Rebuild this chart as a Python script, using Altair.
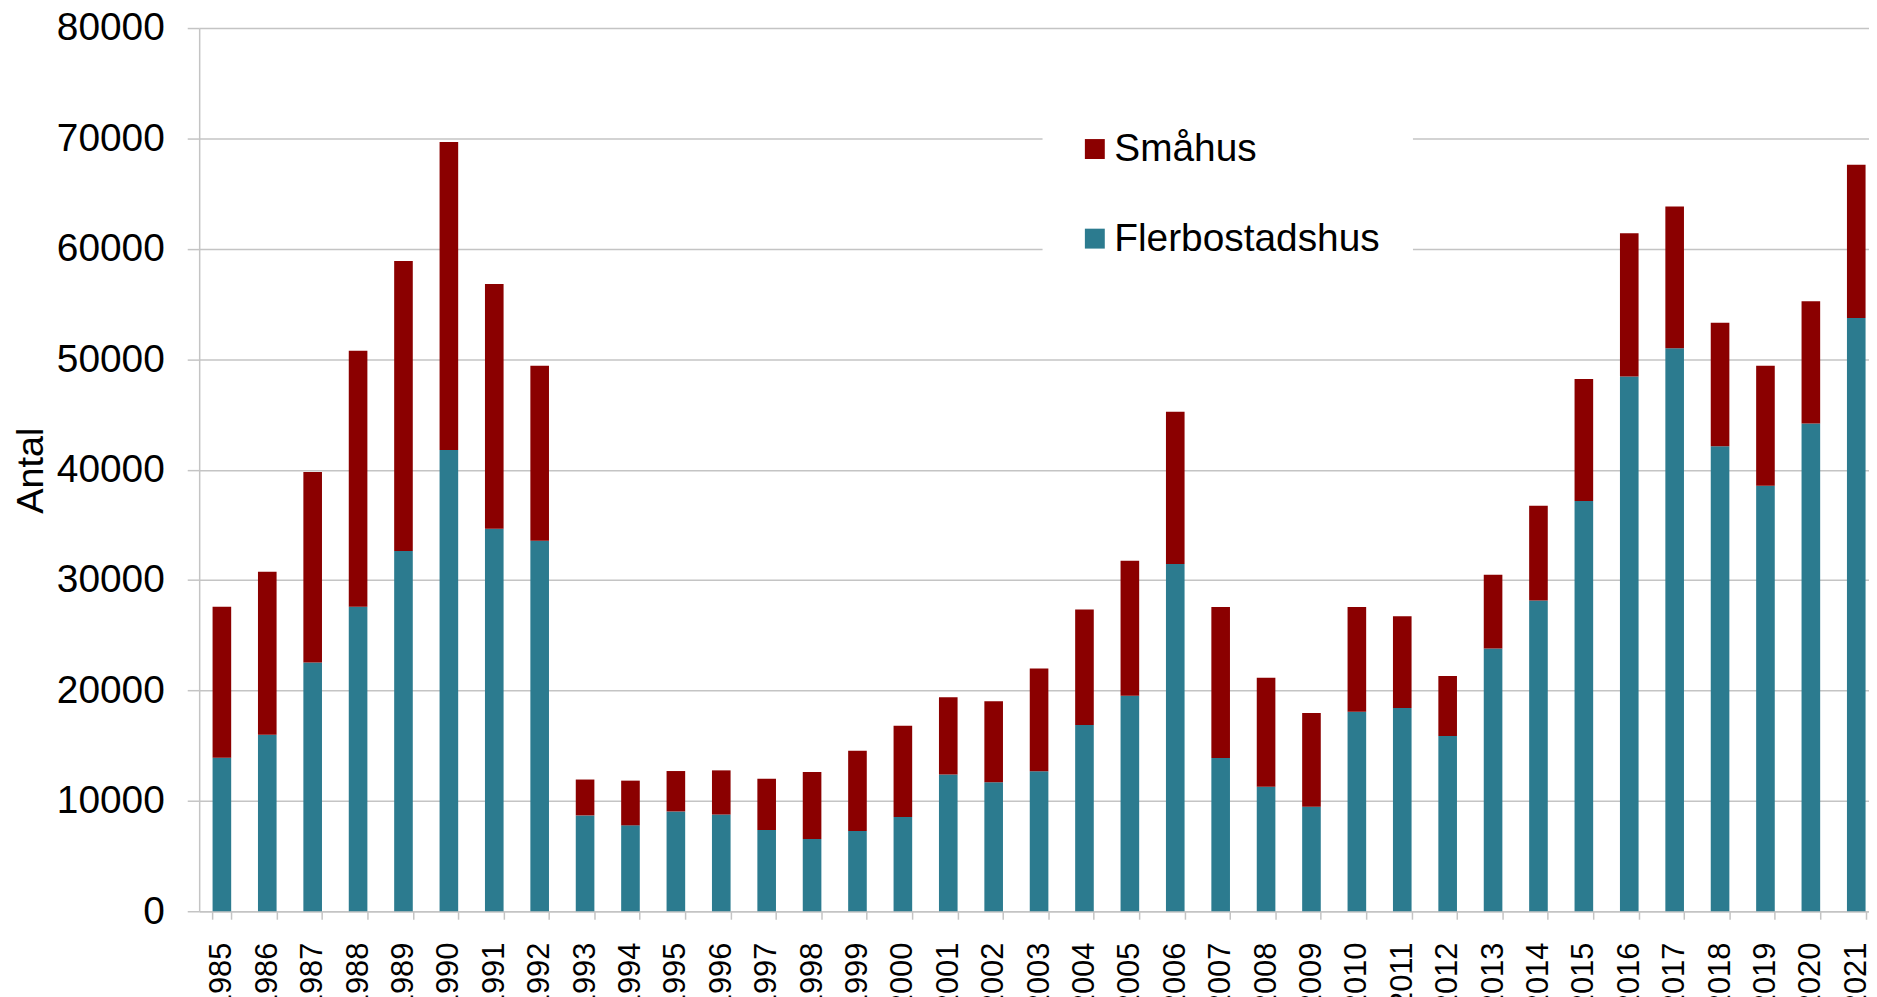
import altair as alt
import pandas as pd

years = list(range(1985, 2022))
flerbostadshus = [13910, 15980, 22540, 27580, 32630, 41770, 34650, 33570, 8680, 7780,
                  9040, 8760, 7360, 6550, 7270, 8540, 12390, 11680, 12670, 16860,
                  19530, 31460, 13880, 11270, 9470, 18070, 18420, 15870, 23790, 28150,
                  37170, 48430, 51000, 42130, 38550, 44170, 53740]
smahus = [13670, 14760, 17250, 23200, 26260, 27910, 22160, 15840, 3250, 4050,
          3660, 4000, 4630, 6060, 7260, 8260, 6990, 7330, 9320, 10470,
          12210, 13790, 13670, 9880, 8480, 9480, 8290, 5430, 6680, 8570,
          11040, 12980, 12840, 11170, 10850, 11080, 13870]
series = ["Småhus", "Flerbostadshus"]
colors = ["#8B0000", "#2C7B8F"]
y_ticks = [0, 10000, 20000, 30000, 40000, 50000, 60000, 70000, 80000]

rows = []
for yr, f, s in zip(years, flerbostadshus, smahus):
    rows.append({"År": str(yr), "Typ": "Flerbostadshus", "Antal": f, "ordning": 0})
    rows.append({"År": str(yr), "Typ": "Småhus", "Antal": s, "ordning": 1})
df = pd.DataFrame(rows)

FONT = "Liberation Sans"
GRAY = "#C4C4C4"

chart = alt.Chart(df).mark_bar().encode(
    x=alt.X(
        "År:N",
        sort=[str(y) for y in years],
        scale=alt.Scale(paddingInner=0.59, paddingOuter=0.295),
        axis=alt.Axis(
            title=None, labelAngle=270, labelAlign="right", labelBaseline="middle",
            labelFontSize=31, labelFont=FONT, labelColor="black", labelPadding=23,
            tickSize=8, tickBand="extent", tickColor=GRAY, tickWidth=1.5,
            domainColor=GRAY, domainWidth=1.5, grid=False, labelOverlap=False,
        ),
    ),
    y=alt.Y(
        "Antal:Q",
        stack="zero",
        scale=alt.Scale(domain=[0, 80000], nice=False),
        axis=alt.Axis(
            values=y_ticks, format="d", title="Antal",
            titleFontSize=38, titleFont=FONT, titleFontWeight="normal", titleColor="black",
            titleAngle=270, titleX=-157, titleY=444, titleAlign="center", titleBaseline="alphabetic",
            labelFontSize=39, labelFont=FONT, labelColor="black", labelPadding=23,
            tickSize=12, tickColor=GRAY, tickWidth=1.5,
            domainColor=GRAY, domainWidth=1.5,
            grid=True, gridColor=GRAY, gridWidth=1.5,
        ),
    ),
    color=alt.Color(
        "Typ:N",
        scale=alt.Scale(domain=series, range=colors),
        legend=alt.Legend(
            title=None, orient="none", legendX=847, legendY=69, direction="vertical",
            fillColor="white", padding=33, symbolType="square", symbolSize=400,
            symbolStrokeWidth=0, symbolOpacity=1, labelFontSize=39, labelFont=FONT,
            labelColor="black", labelOffset=0, rowPadding=50, labelLimit=500,
        ),
    ),
    order=alt.Order("ordning:Q", sort="ascending"),
).properties(
    width=1687,
    height=887,
    autosize=alt.AutoSizeParams(type="none"),
    padding={"left": 192, "top": 18, "right": -10, "bottom": 84},
).configure_view(stroke=None)

chart.save("out.html", embed_options={"renderer": "svg", "actions": False})
